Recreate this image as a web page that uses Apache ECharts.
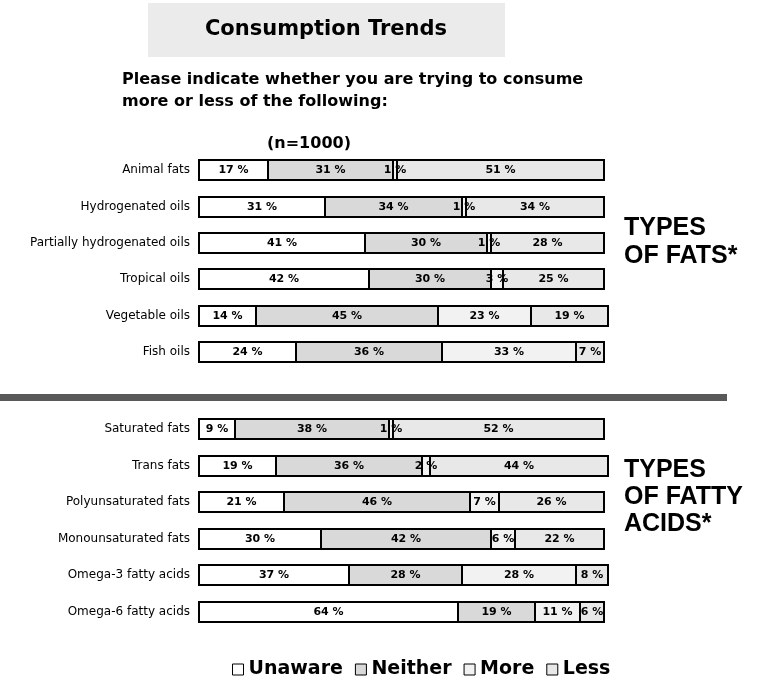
<!DOCTYPE html>
<html>
<head>
<meta charset="utf-8">
<script src="https://cdn.jsdelivr.net/npm/echarts@6/dist/echarts.min.js"></script>
<style>
  html, body { margin: 0; padding: 0; background: #fff; }
  #chart { width: 761px; height: 688px; }
</style>
</head>
<body>
<div id="chart"></div>
<script>
// Types of fats
const fatCategories = ['Animal fats', 'Hydrogenated oils', 'Partially hydrogenated oils', 'Tropical oils', 'Vegetable oils', 'Fish oils'];
const fatUnaware = [17, 31, 41, 42, 14, 24];
const fatNeither = [31, 34, 30, 30, 45, 36];
const fatMore    = [1, 1, 1, 3, 23, 33];
const fatLess    = [51, 34, 28, 25, 19, 7];

// Types of fatty acids
const acidCategories = ['Saturated fats', 'Trans fats', 'Polyunsaturated fats', 'Monounsaturated fats', 'Omega-3 fatty acids', 'Omega-6 fatty acids'];
const acidUnaware = [9, 19, 21, 30, 37, 64];
const acidNeither = [38, 36, 46, 42, 28, 19];
const acidMore    = [1, 2, 7, 6, 28, 11];
const acidLess    = [52, 44, 26, 22, 8, 6];

const responseNames = ['Unaware', 'Neither', 'More', 'Less'];
const responseColors = ['#ffffff', '#d9d9d9', '#f2f2f2', '#e8e8e8'];

const BAR_HEIGHT = 20;

const chart = echarts.init(document.getElementById('chart'), null, { renderer: 'canvas' });

// Each segment is drawn as a framed rectangle whose border straddles its
// edges, so neighbouring segments share a single divider line.
function renderSegment(params, api) {
  const row = api.value(0);
  const start = api.coord([api.value(1), row]);
  const end = api.coord([api.value(2), row]);
  const x0 = Math.round(start[0]);
  const x1 = Math.round(end[0]);
  const yc = Math.round(start[1]);
  return {
    type: 'group',
    children: [
      {
        type: 'rect',
        shape: { x: x0, y: yc - BAR_HEIGHT / 2, width: x1 - x0, height: BAR_HEIGHT },
        style: { fill: api.visual('color'), stroke: '#000', lineWidth: 2 }
      },
      {
        type: 'text',
        z2: 100,
        style: {
          x: (x0 + x1) / 2,
          y: yc + 0.5,
          text: api.value(3) + ' %',
          align: 'center',
          verticalAlign: 'middle',
          font: 'bold 11px "DejaVu Sans", sans-serif',
          fill: '#000'
        }
      }
    ]
  };
}

// Turn per-response value lists into [row, start, end, value] segments.
function stackedSeries(valueLists, gridIndex) {
  const offsets = valueLists[0].map(() => 0);
  return valueLists.map((values, i) => {
    const data = values.map((v, row) => {
      const s = offsets[row];
      offsets[row] += v;
      return [row, s, s + v, v];
    });
    return {
      name: responseNames[i],
      type: 'custom',
      xAxisIndex: gridIndex,
      yAxisIndex: gridIndex,
      renderItem: renderSegment,
      encode: { x: [1, 2], y: 0 },
      itemStyle: { color: responseColors[i], borderColor: '#000', borderWidth: 1 },
      data: data,
      silent: true,
      animation: false
    };
  });
}

function valueAxis(gridIndex) {
  return {
    type: 'value', gridIndex: gridIndex, min: 0, max: 100,
    show: false, splitLine: { show: false }
  };
}

function categoryAxis(gridIndex, cats) {
  return {
    type: 'category', gridIndex: gridIndex, data: cats, inverse: true,
    axisLine: { show: false }, axisTick: { show: false },
    axisLabel: {
      margin: 9, color: '#000', fontSize: 12,
      fontFamily: '"DejaVu Sans", sans-serif'
    }
  };
}

const option = {
  backgroundColor: '#ffffff',
  animation: false,
  grid: [
    { left: 199, top: 152, width: 405, height: 218 },
    { left: 199, top: 411, width: 405, height: 219 }
  ],
  xAxis: [valueAxis(0), valueAxis(1)],
  yAxis: [categoryAxis(0, fatCategories), categoryAxis(1, acidCategories)],
  legend: {
    data: responseNames,
    left: 227,
    top: 655,
    icon: 'rect',
    itemWidth: 11,
    itemHeight: 11,
    itemGap: 12,
    selectedMode: false,
    itemStyle: { borderColor: '#000', borderWidth: 1 },
    textStyle: {
      color: '#000', fontSize: 19, fontWeight: 'bold',
      fontFamily: '"DejaVu Sans", sans-serif', padding: [0, 0, 0, 0]
    }
  },
  graphic: [
    {
      type: 'rect', left: 148, top: 3, z: 0,
      shape: { width: 357, height: 54 },
      style: { fill: '#ebebeb' }
    },
    {
      type: 'text', z: 1,
      style: {
        x: 326, y: 30,
        text: 'Consumption Trends',
        align: 'center', verticalAlign: 'middle',
        font: 'bold 21px "DejaVu Sans", sans-serif',
        fill: '#000'
      }
    },
    {
      type: 'text', left: 122, top: 69,
      style: {
        text: 'Please indicate whether you are trying to consume\nmore or less of the following:',
        font: 'bold 16px "DejaVu Sans", sans-serif',
        lineHeight: 22,
        fill: '#000'
      }
    },
    {
      type: 'text', left: 267, top: 136,
      style: {
        text: '(n=1000)',
        font: 'bold 16px "DejaVu Sans", sans-serif',
        fill: '#000'
      }
    },
    {
      type: 'rect', left: 0, top: 394,
      shape: { width: 727, height: 7 },
      style: { fill: '#595959' }
    },
    {
      type: 'text', left: 624, top: 214,
      style: {
        text: 'TYPES\nOF FATS*',
        font: 'bold 25px "Liberation Sans", Arial, sans-serif',
        lineHeight: 28,
        fill: '#000'
      }
    },
    {
      type: 'text', left: 624, top: 457,
      style: {
        text: 'TYPES\nOF FATTY\nACIDS*',
        font: 'bold 25px "Liberation Sans", Arial, sans-serif',
        lineHeight: 27,
        fill: '#000'
      }
    }
  ],
  series: [
    ...stackedSeries([fatUnaware, fatNeither, fatMore, fatLess], 0),
    ...stackedSeries([acidUnaware, acidNeither, acidMore, acidLess], 1)
  ]
};

chart.setOption(option);
</script>
</body>
</html>
